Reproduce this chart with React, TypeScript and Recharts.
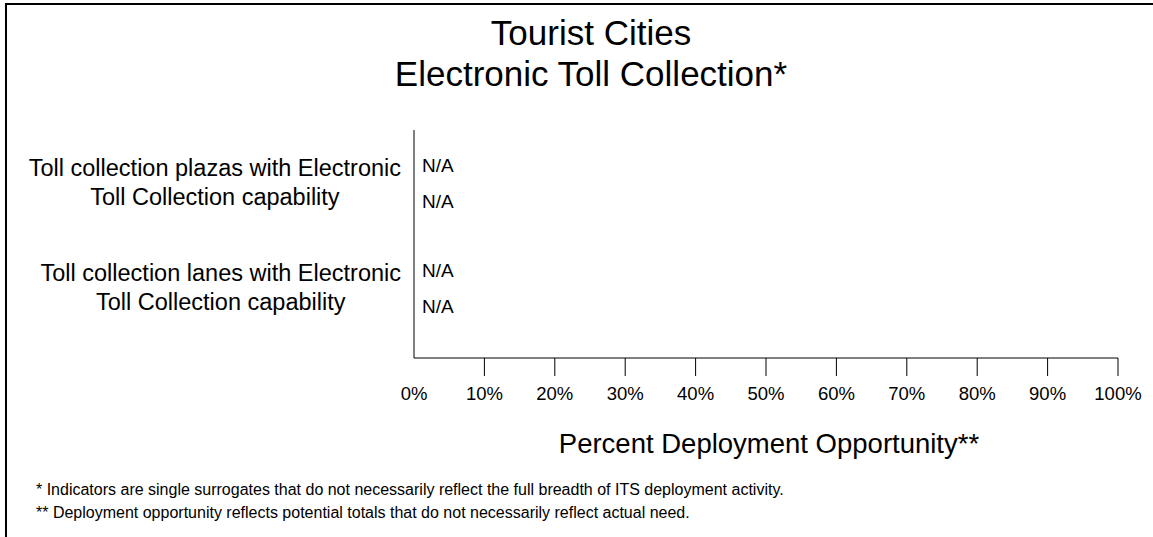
import React from "react";
import { BarChart, Bar, XAxis, YAxis } from "recharts";

// categories (line breaks as in the original wrapped labels)
const categories = [
  "Toll collection plazas with Electronic\nToll Collection capability",
  "Toll collection lanes with Electronic\nToll Collection capability",
];

// both series are not available -> drawn at 0 with an "N/A" label
const seriesA = [0, 0];
const seriesB = [0, 0];
const seriesALabels = ["N/A", "N/A"];
const seriesBLabels = ["N/A", "N/A"];

const xTicks = [0, 10, 20, 30, 40, 50, 60, 70, 80, 90, 100];

const titleLines = ["Tourist Cities", "Electronic Toll Collection*"];
const xAxisTitle = "Percent Deployment Opportunity**";
const footnotes = [
  "* Indicators are single surrogates that do not necessarily reflect the full breadth of ITS deployment activity.",
  "** Deployment opportunity reflects potential totals that do not necessarily reflect actual need.",
];

const FONT = "'Liberation Sans', Arial, sans-serif";
const CAT_FONT_SIZE = 23.5;

const data = categories.map((name, i) => ({
  name,
  a: seriesA[i],
  b: seriesB[i],
  aLabel: seriesALabels[i],
  bLabel: seriesBLabels[i],
}));

// measure text so wrapped lines are centered inside a right-aligned block
let measureCtx: CanvasRenderingContext2D | null = null;
const textWidth = (s: string, size: number) => {
  if (!measureCtx && typeof document !== "undefined") {
    measureCtx = document.createElement("canvas").getContext("2d");
  }
  if (!measureCtx) return s.length * size * 0.5;
  measureCtx.font = `${size}px 'Liberation Sans', Arial, sans-serif`;
  return measureCtx.measureText(s).width;
};

const CategoryTick = ({ x, y, payload }: any) => {
  const lines = String(payload.value).split("\n");
  const maxW = Math.max(...lines.map((l) => textWidth(l, CAT_FONT_SIZE)));
  const right = x - 5;
  const cx = right - maxW / 2;
  return (
    <text
      textAnchor="middle"
      dominantBaseline="central"
      fontSize={CAT_FONT_SIZE}
      fontFamily={FONT}
      fill="#000"
    >
      {lines.map((line, i) => (
        <tspan key={i} x={cx} y={y + (i - (lines.length - 1) / 2) * 29}>
          {line}
        </tspan>
      ))}
    </text>
  );
};

const PercentTick = ({ x, y, payload }: any) => (
  <g>
    {payload.value !== 0 && (
      <line x1={x} x2={x} y1={y - 18} y2={y} stroke="#000" strokeWidth={1} />
    )}
    <text
      x={x}
      y={y + 17}
      textAnchor="middle"
      dominantBaseline="central"
      fontSize={18.5}
      fontFamily={FONT}
      fill="#000"
    >
      {payload.value}%
    </text>
  </g>
);

// zero-length bars: only the "N/A" text next to the axis is visible
const makeNaShape = (labelKey: string) => (props: any) => {
  const { x, y, width, height, payload } = props;
  return (
    <text
      x={x + (width || 0) + 8}
      y={y + height / 2}
      dominantBaseline="central"
      fontSize={19}
      fontFamily={FONT}
      fill="#000"
    >
      {payload[labelKey]}
    </text>
  );
};

const App = () => {
  return (
    <div
      style={{
        position: "absolute",
        left: 0,
        top: 0,
        width: 1153,
        height: 537,
        overflow: "hidden",
        background: "#fff",
      }}
    >
      {/* outer frame, only left/top edges are visible in the crop */}
      <div
        style={{
          position: "absolute",
          left: 5,
          top: 3,
          width: 1300,
          height: 700,
          borderLeft: "2px solid #000",
          borderTop: "2px solid #000",
        }}
      />

      <div style={{ position: "absolute", left: 0, top: 0 }}>
        <BarChart
          width={1153}
          height={537}
          data={data}
          layout="vertical"
          margin={{ top: 130, right: 35, left: 0, bottom: 129 }}
          barCategoryGap={17}
          barGap={0}
        >
          <XAxis
            type="number"
            domain={[0, 100]}
            ticks={xTicks}
            interval={0}
            height={50}
            tickSize={18}
            tickMargin={0}
            tickLine={false}
            axisLine={{ stroke: "#000", strokeWidth: 1 }}
            tick={<PercentTick />}
          />
          <YAxis
            type="category"
            dataKey="name"
            width={414}
            padding={{ top: 0, bottom: 17.5 }}
            tickLine={false}
            axisLine={{ stroke: "#000", strokeWidth: 1 }}
            tick={<CategoryTick />}
            interval={0}
          />
          <Bar
            dataKey="a"
            fill="#000"
            isAnimationActive={false}
            shape={makeNaShape("aLabel")}
          />
          <Bar
            dataKey="b"
            fill="#000"
            isAnimationActive={false}
            shape={makeNaShape("bLabel")}
          />
        </BarChart>
      </div>

      <svg
        width={1153}
        height={537}
        style={{ position: "absolute", left: 0, top: 0, pointerEvents: "none" }}
        fontFamily={FONT}
        fill="#000"
      >
        <text x={591} y={45} fontSize={35} textAnchor="middle">
          {titleLines[0]}
        </text>
        <text x={591} y={86} fontSize={35} textAnchor="middle">
          {titleLines[1]}
        </text>
        <text x={769} y={453} fontSize={27.5} textAnchor="middle">
          {xAxisTitle}
        </text>
        <text x={36} y={495} fontSize={16}>
          {footnotes[0]}
        </text>
        <text x={36} y={518} fontSize={16}>
          {footnotes[1]}
        </text>
      </svg>
    </div>
  );
};

export default App;
